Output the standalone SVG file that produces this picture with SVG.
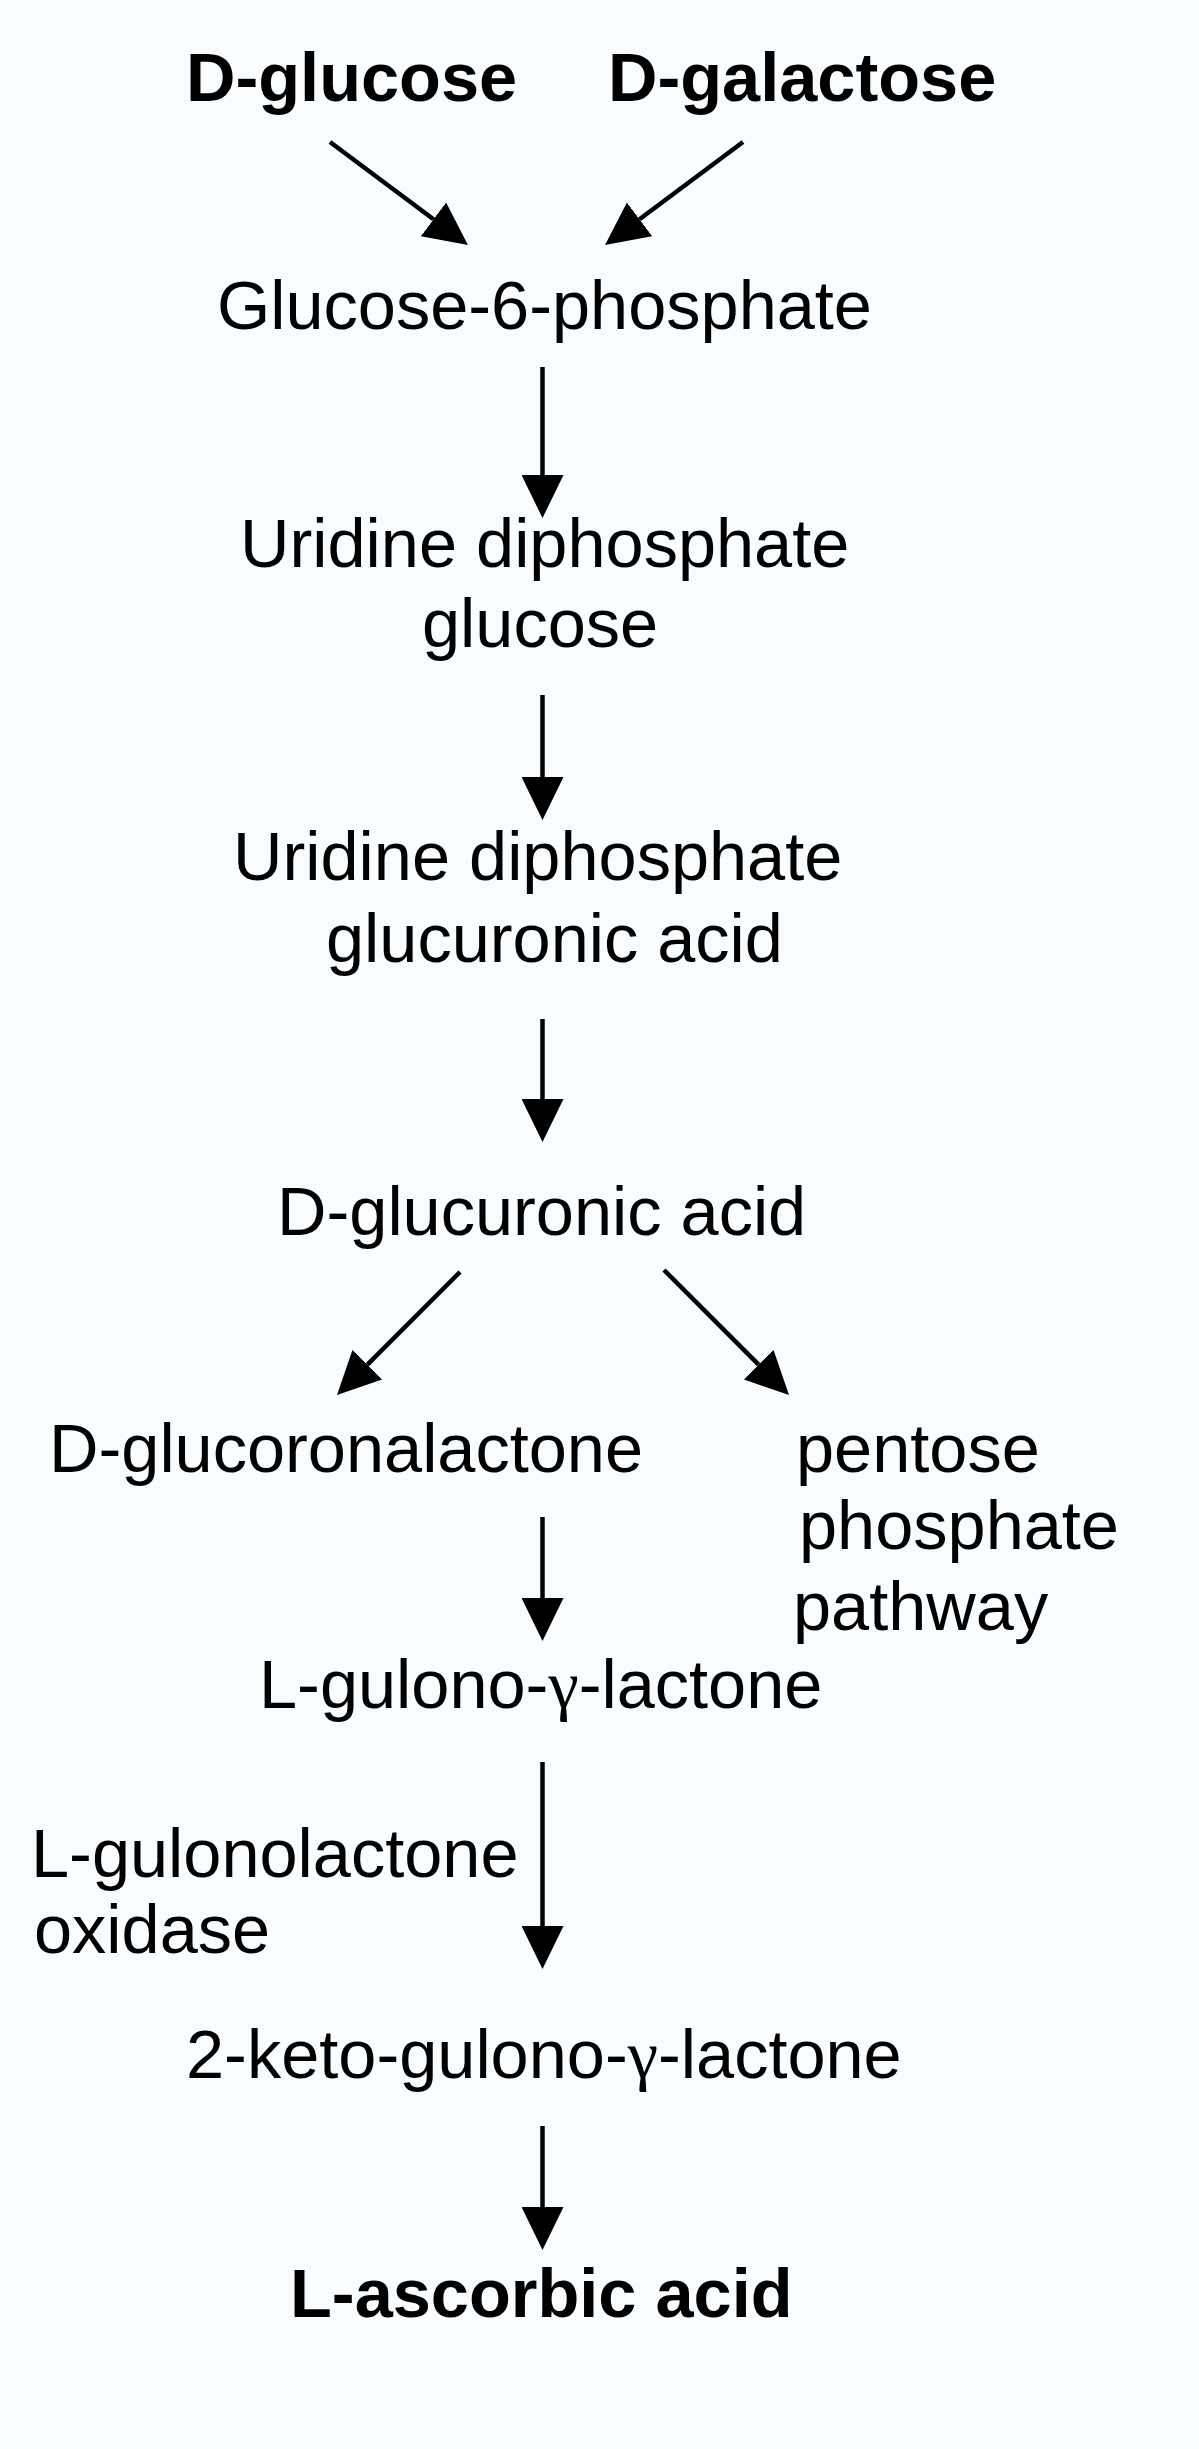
<svg xmlns="http://www.w3.org/2000/svg" width="1199" height="2449" viewBox="0 0 1199 2449">
<style>
.t{font-family:"Liberation Sans",Arial,sans-serif;font-size:68.5px;fill:#000}
.b{font-weight:bold}
.g{font-family:"Liberation Serif","Times New Roman",serif}
.c{stroke:#000;stroke-width:4.5;fill:none}
</style>
<defs>
<marker id="ah" viewBox="0 0 43 42" refX="0" refY="21" markerWidth="43" markerHeight="42" markerUnits="userSpaceOnUse" orient="auto">
<path d="M0,0 L43,21 L0,42 z" fill="#000"/>
</marker>
</defs>
<rect width="1199" height="2449" fill="#f8fcfe"/>
<g id="connectors">
<line class="c" x1="330" y1="142" x2="433.5" y2="219.3" marker-end="url(#ah)"/>
<line class="c" x1="743" y1="142" x2="639.5" y2="219.3" marker-end="url(#ah)"/>
<line class="c" x1="542.5" y1="367" x2="542.5" y2="475" marker-end="url(#ah)"/>
<line class="c" x1="542.5" y1="695" x2="542.5" y2="777" marker-end="url(#ah)"/>
<line class="c" x1="542.5" y1="1019" x2="542.5" y2="1099" marker-end="url(#ah)"/>
<line class="c" x1="460" y1="1272" x2="367.4" y2="1364.6" marker-end="url(#ah)"/>
<line class="c" x1="664" y1="1270" x2="758.6" y2="1364.6" marker-end="url(#ah)"/>
<line class="c" x1="542.5" y1="1517" x2="542.5" y2="1598" marker-end="url(#ah)"/>
<line class="c" x1="542.5" y1="1762" x2="542.5" y2="1926" marker-end="url(#ah)"/>
<line class="c" x1="542.5" y1="2126" x2="542.5" y2="2207" marker-end="url(#ah)"/>
</g>
<g id="d-glucose"><text class="t b" x="186" y="101">D-glucose</text></g>
<g id="d-galactose"><text class="t b" x="608" y="101">D-galactose</text></g>
<g id="glucose-6-phosphate"><text class="t" x="217" y="329">Glucose-6-phosphate</text></g>
<g id="udp-glucose">
<text class="t" x="240" y="567">Uridine diphosphate</text>
<text class="t" x="422" y="647">glucose</text>
</g>
<g id="udp-glucuronic-acid">
<text class="t" x="233" y="880">Uridine diphosphate</text>
<text class="t" x="326" y="962">glucuronic acid</text>
</g>
<g id="d-glucuronic-acid"><text class="t" x="277" y="1235">D-glucuronic acid</text></g>
<g id="d-glucoronalactone"><text class="t" x="49" y="1472">D-glucoronalactone</text></g>
<g id="pentose-phosphate-pathway">
<text class="t" x="796" y="1472">pentose</text>
<text class="t" x="799" y="1549">phosphate</text>
<text class="t" x="793" y="1630">pathway</text>
</g>
<g id="l-gulono-lactone"><text class="t" x="259" y="1708">L-gulono-<tspan class="g">γ</tspan>-lactone</text></g>
<g id="enzyme-label">
<text class="t" x="31" y="1877">L-gulonolactone</text>
<text class="t" x="34" y="1953">oxidase</text>
</g>
<g id="2-keto-gulono-lactone"><text class="t" x="186" y="2078">2-keto-gulono-<tspan class="g">γ</tspan>-lactone</text></g>
<g id="l-ascorbic-acid"><text class="t b" x="290" y="2317">L-ascorbic acid</text></g>
</svg>
